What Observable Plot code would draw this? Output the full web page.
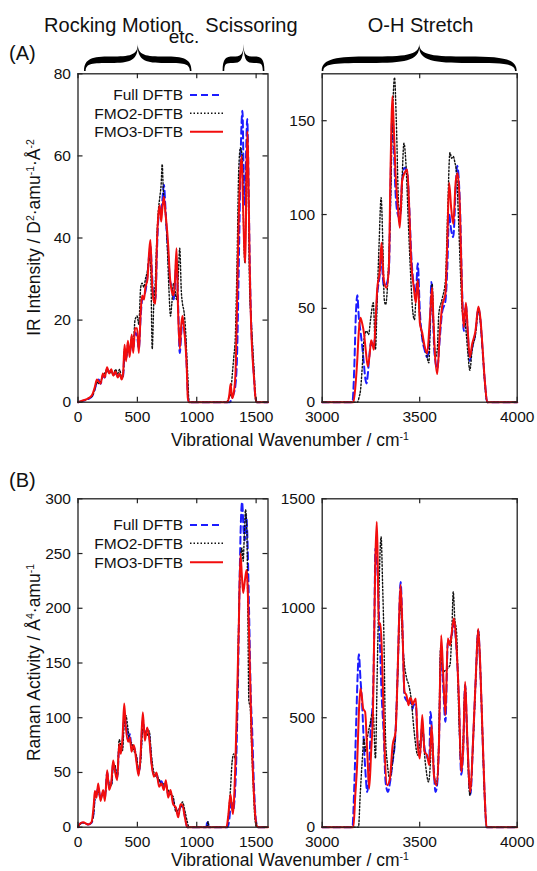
<!DOCTYPE html>
<html><head><meta charset="utf-8">
<script src="https://cdn.jsdelivr.net/npm/d3@7"></script>
<script src="https://cdn.jsdelivr.net/npm/@observablehq/plot@0.6"></script>
<style>
body{margin:0;background:#fff;}
#wrap{position:relative;width:537px;height:871px;overflow:hidden;background:#fff;}
</style></head><body><div id="wrap"></div>
<script>
// ---------- DATA (wavenumber cm^-1, value) ----------
const seriesNames = ["Full DFTB", "FMO2-DFTB", "FMO3-DFTB"];

// (A) IR intensity, low-frequency region
const irLowFull = [[0,0],[40,0.3],[90,0.8],[120,1.5],[140,3],[160,5],[175,5.5],[190,4.5],[210,6.5],[225,6],[245,8],[262,7.5],[280,7.5],[298,7],[315,7],[335,6.5],[350,6.5],[368,6],[380,6.5],[392,12],[405,10.5],[420,14],[435,12],[452,15],[465,13],[480,17],[498,16],[512,13],[528,21],[540,25],[555,26],[568,27],[585,31],[600,36],[610,38],[622,32],[635,26],[652,25],[664,36],[675,44],[689,47],[700,46],[710,49],[723,53],[737,47],[750,40],[760,36],[773,30],[790,28],[805,25],[815,28],[830,35],[843,24],[857,12],[870,17],[880,20],[893,18],[905,15],[915,9],[925,2],[935,0],[1280,0],[1295,1],[1310,2],[1325,4],[1340,12],[1352,30],[1365,52],[1375,66],[1385,71],[1395,55],[1405,48],[1415,60],[1425,69],[1435,56],[1445,36],[1460,18],[1472,11],[1482,6],[1495,1],[1505,0],[1600,0]];
const irLowFMO2 = [[0,0],[40,0.3],[90,1],[120,1.5],[140,3],[160,5],[175,4.5],[190,5],[210,6.5],[225,7],[245,8],[262,7],[280,7.5],[298,6.5],[315,8],[335,7],[350,8],[368,6],[380,6.5],[392,13],[405,11],[420,13.5],[435,12],[452,16],[465,14],[480,20],[498,21],[512,19],[528,28],[540,29],[555,28],[568,30],[585,32],[600,35],[612,33],[625,13],[638,24],[652,30],[664,40],[675,46],[689,50],[700,53],[709,58],[718,52],[730,48],[742,44],[752,38],[765,28],[779,21],[790,24],[805,29],[818,27],[830,25],[843,30],[857,37.5],[870,27],[880,24],[893,22],[905,18],[915,12],[925,6],[935,0],[1250,0],[1270,1],[1285,2],[1300,7],[1312,11],[1325,16],[1340,35],[1354,57],[1368,62],[1382,60],[1395,42],[1405,34],[1415,52],[1425,64],[1435,50],[1445,28],[1458,20],[1470,14],[1482,8],[1495,1],[1505,0],[1600,0]];
const irLowFMO3 = [[0,0],[40,0.4],[90,1],[120,1.8],[140,3.5],[160,5.5],[175,5],[190,4.5],[210,7],[225,6],[245,8.5],[262,7],[280,8],[298,6.5],[315,7.5],[335,6],[350,7],[368,5.5],[380,7],[392,14],[405,10],[420,15],[435,11],[452,16.5],[465,12],[480,18],[498,18],[512,12],[528,22],[540,26],[555,25],[568,28],[585,30],[600,37],[610,39.5],[622,30],[635,25],[652,24],[664,38],[675,45],[689,48],[700,44],[710,47],[723,50],[737,46],[750,42],[760,38],[773,31],[790,27],[805,26],[815,29],[830,37.5],[843,22],[857,13],[870,19],[880,21],[893,18],[905,14],[915,9],[925,1],[935,0],[1260,0],[1275,2],[1285,4.5],[1298,1],[1310,2],[1326,7],[1340,25],[1350,40],[1365,55],[1378,60],[1390,48],[1402,36],[1410,34],[1418,55],[1427,66],[1435,55],[1445,35],[1460,17],[1472,10],[1482,6],[1495,1],[1505,0],[1600,0]];

// (A) IR intensity, O-H stretch region
const irOHFull = [[3000,0],[3155,0],[3165,20],[3172,45],[3180,57],[3188,45],[3196,38],[3205,30],[3214,20],[3222,12],[3227,10],[3234,15],[3243,26],[3251,32],[3258,30],[3265,29],[3273,40],[3282,57],[3295,68],[3304,80],[3310,68],[3316,62],[3330,63],[3342,70],[3350,112],[3355,140],[3360,155],[3366,140],[3376,112],[3388,100],[3398,98],[3410,118],[3422,125],[3436,123],[3446,105],[3456,80],[3470,62],[3480,58],[3490,74],[3501,48],[3513,34],[3525,28],[3538,24],[3552,38],[3560,64],[3570,40],[3576,26],[3590,18],[3603,34],[3615,48],[3632,54],[3641,70],[3651,100],[3661,92],[3672,88],[3685,115],[3692,126],[3706,106],[3718,58],[3726,38],[3737,52],[3747,36],[3757,22],[3769,29],[3786,37],[3801,50],[3812,43],[3821,30],[3835,10],[3846,0],[4000,0]];
const irOHFMO2 = [[3000,0],[3180,0],[3190,3],[3196,6],[3205,18],[3214,33],[3227,38],[3238,36],[3248,44],[3262,53],[3273,28],[3282,55],[3292,85],[3302,109],[3312,80],[3318,55],[3325,52],[3338,68],[3350,104],[3360,150],[3371,173],[3380,150],[3393,104],[3405,102],[3412,125],[3419,138],[3432,122],[3442,95],[3453,69],[3463,50],[3473,44],[3482,58],[3490,65],[3500,45],[3510,37],[3520,31],[3530,28],[3547,21],[3555,45],[3564,63],[3572,40],[3580,24],[3590,28],[3598,47],[3615,55],[3632,65],[3643,100],[3655,133],[3664,130],[3672,131],[3680,128],[3689,122],[3700,95],[3709,69],[3720,47],[3730,45],[3740,35],[3748,25],[3757,17],[3769,28],[3786,36],[3801,49],[3812,42],[3821,30],[3835,9],[3846,0],[4000,0]];
const irOHFMO3 = [[3000,0],[3160,0],[3170,8],[3179,21],[3188,38],[3196,45],[3205,42],[3214,37],[3224,27],[3234,19],[3243,25],[3251,33],[3258,31],[3265,28],[3273,42],[3282,60],[3295,70],[3304,85],[3310,75],[3316,65],[3330,61],[3342,72],[3350,122],[3355,148],[3360,163],[3366,150],[3376,122],[3388,104],[3398,93],[3410,118],[3422,122],[3436,124],[3446,104],[3456,76],[3470,61],[3480,53],[3490,65],[3501,42],[3513,37],[3525,30],[3538,26],[3552,44],[3564,61],[3570,45],[3576,30],[3590,15],[3603,37],[3615,51],[3632,58],[3641,83],[3651,117],[3661,104],[3672,95],[3685,118],[3695,122],[3706,104],[3718,54],[3726,40],[3737,53],[3747,37],[3757,24],[3769,31],[3786,38],[3801,51],[3812,44],[3821,31],[3835,10],[3846,0],[4000,0]];

// (B) Raman activity, low-frequency region
const ramanLowFull = [[0,0],[15,3],[43,4],[86,2.5],[114,4],[133,15],[142,28],[156,30],[170,36],[190,26],[212,32],[226,27],[246,50],[262,37],[282,40],[296,58],[310,55],[330,45],[347,72],[361,70],[375,77],[389,100],[403,96],[423,80],[437,85],[451,72],[470,73],[493,62],[510,49],[526,62],[546,98],[563,84],[583,89],[599,85],[619,60],[639,48],[661,49],[683,40],[703,42],[723,36],[740,40],[759,30],[779,32],[801,24],[824,17],[844,12],[863,19],[880,19],[900,10],[920,0],[1080,0],[1090,6],[1100,0],[1260,0],[1275,8],[1290,25],[1305,15],[1326,40],[1345,120],[1360,220],[1372,280],[1382,297],[1395,270],[1405,262],[1415,285],[1425,270],[1440,200],[1455,120],[1466,91],[1481,40],[1500,5],[1515,0],[1600,0]];
const ramanLowFMO2 = [[0,0],[15,2.5],[43,4],[86,2.5],[114,4.5],[133,14],[142,26],[156,32],[170,33],[190,27],[212,30],[226,29],[246,45],[262,40],[282,38],[296,55],[310,57],[330,46],[347,80],[361,75],[375,70],[389,95],[403,102],[423,88],[437,78],[451,77],[470,70],[493,65],[510,52],[526,58],[546,90],[563,88],[583,84],[599,88],[619,65],[639,50],[661,46],[683,44],[703,38],[723,40],[740,38],[759,34],[779,30],[801,28],[824,14],[844,16],[863,18],[880,23],[900,15],[920,5],[935,0],[1085,0],[1095,5],[1105,0],[1255,0],[1270,15],[1284,35],[1298,60],[1312,67],[1325,62],[1340,110],[1354,190],[1368,240],[1380,255],[1391,243],[1400,265],[1411,290],[1422,270],[1430,200],[1439,115],[1450,110],[1460,80],[1475,40],[1490,8],[1505,0],[1600,0]];
const ramanLowFMO3 = [[0,0],[15,3],[43,4.6],[86,2.5],[114,4.6],[133,21],[142,33],[156,27],[170,40],[190,24],[212,34],[226,24],[246,52],[262,34],[282,43],[296,61],[310,52],[330,43],[347,76],[361,67],[375,82],[389,113],[403,91],[423,78],[437,82],[451,69],[470,75],[493,59],[510,47],[526,64],[546,105],[563,79],[583,91],[599,82],[619,58],[639,46],[661,50],[683,37],[703,40],[723,34],[740,43],[759,27],[779,34],[801,21],[824,18],[844,9],[863,21],[880,20],[900,9],[920,0],[1250,0],[1265,10],[1284,30],[1304,12],[1326,61],[1340,120],[1354,183],[1368,250],[1380,230],[1391,214],[1405,225],[1419,235],[1439,183],[1458,98],[1481,31],[1503,2],[1515,0],[1600,0]];

// (B) Raman activity, O-H stretch region
const ramanOHFull = [[3000,0],[3155,0],[3165,200],[3175,500],[3182,700],[3188,790],[3196,680],[3205,557],[3214,374],[3222,250],[3231,161],[3240,250],[3248,435],[3261,618],[3267,900],[3273,1273],[3282,1197],[3290,1000],[3296,846],[3305,600],[3315,435],[3325,207],[3337,161],[3347,200],[3359,284],[3376,435],[3388,740],[3396,1000],[3402,1120],[3412,900],[3422,600],[3432,580],[3443,570],[3450,560],[3456,580],[3463,540],[3470,560],[3480,560],[3490,380],[3501,330],[3513,470],[3525,360],[3538,320],[3549,300],[3555,527],[3565,400],[3573,250],[3581,161],[3590,200],[3598,350],[3610,820],[3620,650],[3632,482],[3644,840],[3655,860],[3665,880],[3675,930],[3689,810],[3701,580],[3713,240],[3723,350],[3733,650],[3743,430],[3754,200],[3760,150],[3774,400],[3788,690],[3800,900],[3810,740],[3821,450],[3833,150],[3843,0],[4000,0]];
const ramanOHFMO2 = [[3000,0],[3186,0],[3195,150],[3205,300],[3214,405],[3222,344],[3230,400],[3244,466],[3261,527],[3273,314],[3282,700],[3290,1045],[3302,1326],[3310,1100],[3316,892],[3325,400],[3333,300],[3347,222],[3361,300],[3376,435],[3388,720],[3396,950],[3402,1030],[3412,850],[3422,740],[3433,680],[3444,649],[3456,588],[3470,451],[3490,329],[3500,380],[3513,435],[3530,284],[3545,207],[3555,300],[3561,435],[3573,250],[3586,192],[3598,400],[3607,816],[3620,710],[3636,720],[3655,740],[3665,900],[3672,1075],[3680,950],[3689,892],[3701,500],[3713,284],[3723,400],[3733,649],[3743,420],[3757,146],[3774,390],[3788,680],[3800,900],[3810,740],[3821,450],[3833,140],[3843,0],[4000,0]];
const ramanOHFMO3 = [[3000,0],[3160,0],[3170,150],[3179,284],[3188,520],[3196,633],[3203,600],[3210,542],[3220,527],[3231,344],[3241,176],[3251,344],[3261,557],[3267,900],[3272,1197],[3280,1395],[3285,1200],[3290,923],[3299,930],[3308,740],[3320,359],[3333,192],[3347,222],[3361,374],[3376,435],[3388,740],[3396,1000],[3402,1106],[3412,892],[3422,618],[3432,603],[3443,557],[3450,590],[3456,588],[3463,560],[3470,572],[3480,588],[3490,374],[3501,314],[3513,512],[3525,344],[3538,329],[3549,284],[3561,466],[3573,238],[3586,192],[3598,359],[3610,877],[3620,710],[3632,512],[3644,862],[3655,831],[3665,892],[3675,953],[3689,816],[3701,588],[3713,253],[3723,359],[3733,664],[3743,435],[3754,207],[3760,161],[3774,405],[3788,694],[3800,907],[3810,750],[3821,457],[3833,150],[3843,0],[4000,0]];

// Axis ticks
const lowXTicks = [0, 500, 1000, 1500];
const ohXTicks = [3000, 3500, 4000];
const irLowYTicks = [0, 20, 40, 60, 80];
const irOHYTicks = [0, 50, 100, 150];
const ramanLowYTicks = [0, 50, 100, 150, 200, 250, 300];
const ramanOHYTicks = [0, 500, 1000, 1500];

// Annotation ranges (cm^-1)
const rockingRange = [55, 960];
const scissorRange = [1222, 1574];
const ohRange = [3000, 4000];

// ---------- DRAWING ----------
const FONT = '"Liberation Sans", Arial, Helvetica, sans-serif';
const BLUE = "#1c1cff", RED = "#f20d0d", BLACK = "#111";
const wrap = document.getElementById("wrap");

function lines(full, fmo2, fmo3) {
  const xy = {x: d => d[0], y: d => d[1], curve: "monotone-x"};
  return [
    Plot.line(full, {...xy, stroke: BLUE, strokeWidth: 2, strokeDasharray: "7,4"}),
    Plot.line(fmo2, {...xy, stroke: BLACK, strokeWidth: 1.4, strokeDasharray: "1.5,2"}),
    Plot.line(fmo3, {...xy, stroke: RED, strokeWidth: 2})
  ];
}

function panel(c) {
  const fw = c.width - c.mL - c.mR, fh = c.height - c.mT - c.mB, tk = 5;
  const tickStyle = {stroke: "#222", strokeWidth: 1.2};
  const p = Plot.plot({
    width: c.width, height: c.height,
    marginLeft: c.mL, marginRight: c.mR, marginTop: c.mT, marginBottom: c.mB,
    x: {domain: c.xDomain}, y: {domain: c.yDomain},
    style: {fontFamily: FONT, fontSize: "15.5px", color: "#111", background: "transparent", overflow: "visible"},
    marks: [
      ...lines(...c.data),
      Plot.ruleX(c.xTicks, {x: d => d, insetTop: fh - tk, ...tickStyle}),
      Plot.ruleX(c.xTicks, {x: d => d, insetBottom: fh - tk, ...tickStyle}),
      Plot.ruleY(c.yTicks, {y: d => d, insetRight: fw - tk, ...tickStyle}),
      Plot.ruleY(c.yTicks, {y: d => d, insetLeft: fw - tk, ...tickStyle}),
      Plot.axisX(c.xTicks, {tickSize: 0, tickPadding: 9, tickFormat: d3.format("d"), label: null}),
      Plot.axisY(c.yTicks, {tickSize: 0, tickPadding: 7, tickFormat: d3.format("d"), label: null}),
      Plot.frame({stroke: "#222", strokeWidth: 1.3})
    ]
  });
  p.style.position = "absolute";
  p.style.left = c.left + "px";
  p.style.top = c.top + "px";
  wrap.appendChild(p);
  return p;
}

const tl = panel({left: 0, top: 0, width: 280, height: 440, mL: 77.5, mR: 12.5, mT: 73.3, mB: 38.3,
  xDomain: [0, 1600], yDomain: [0, 80], xTicks: lowXTicks, yTicks: irLowYTicks, data: [irLowFull, irLowFMO2, irLowFMO3]});
const tr = panel({left: 280, top: 0, width: 257, height: 440, mL: 41.7, mR: 20.3, mT: 73.3, mB: 38.3,
  xDomain: [3000, 4000], yDomain: [0, 175], xTicks: ohXTicks, yTicks: irOHYTicks, data: [irOHFull, irOHFMO2, irOHFMO3]});
const bl = panel({left: 0, top: 440, width: 280, height: 431, mL: 77.5, mR: 12.5, mT: 58.3, mB: 44.3,
  xDomain: [0, 1600], yDomain: [0, 300], xTicks: lowXTicks, yTicks: ramanLowYTicks, data: [ramanLowFull, ramanLowFMO2, ramanLowFMO3]});
const br = panel({left: 280, top: 440, width: 257, height: 431, mL: 41.7, mR: 20.3, mT: 58.3, mB: 44.3,
  xDomain: [3000, 4000], yDomain: [0, 1500], xTicks: ohXTicks, yTicks: ramanOHYTicks, data: [ramanOHFull, ramanOHFMO2, ramanOHFMO3]});

// ---------- Overlay: annotations, legends, titles ----------
const ov = d3.select(wrap).append("svg")
  .attr("width", 537).attr("height", 871)
  .style("position", "absolute").style("left", "0px").style("top", "0px")
  .style("pointer-events", "none")
  .attr("font-family", FONT).attr("fill", "#111");

function bracePath(x1, x2, yT, yE, yB, t) {
  const xm = (x1 + x2) / 2, W = xm - x1;
  return [
    `M${x1},${yE}`,
    `C${x1},${yB + 2} ${x1 + 0.15 * W},${yB} ${x1 + 0.5 * W},${yB}`,
    `C${x1 + 0.85 * W},${yB} ${xm},${yB - 1} ${xm},${yT}`,
    `C${xm},${yB - 1} ${x2 - 0.85 * W},${yB} ${x2 - 0.5 * W},${yB}`,
    `C${x2 - 0.15 * W},${yB} ${x2},${yB + 2} ${x2},${yE}`,
    `L${x2 - 1.6},${yE}`,
    `C${x2 - 2},${yB + t} ${x2 - 0.15 * W},${yB + t} ${x2 - 0.5 * W},${yB + t}`,
    `C${x2 - 0.85 * W},${yB + t} ${xm + 1},${yB + t * 0.6} ${xm},${yT + 4}`,
    `C${xm - 1},${yB + t * 0.6} ${x1 + 0.85 * W},${yB + t} ${x1 + 0.5 * W},${yB + t}`,
    `C${x1 + 0.15 * W},${yB + t} ${x1 + 2},${yB + t} ${x1 + 1.6},${yE}`,
    "Z"
  ].join(" ");
}
const sxTL = v => tl.scale("x").apply(v);
const sxTR = v => tr.scale("x").apply(v) + 280;
[[sxTL, rockingRange], [sxTL, scissorRange], [sxTR, ohRange]].forEach(([sx, r]) => {
  ov.append("path").attr("d", bracePath(sx(r[0]), sx(r[1]), 44, 71, 56.5, 6.5)).attr("fill", "#000");
});

function txt(x, y, s, size, anchor = "start") {
  return ov.append("text").attr("x", x).attr("y", y).attr("font-size", size).attr("text-anchor", anchor).text(s);
}
txt(113, 32, "Rocking Motion", 20, "middle");
txt(251.5, 32, "Scissoring", 20, "middle");
txt(420.5, 32, "O-H Stretch", 20, "middle");
txt(184, 43, "etc.", 19, "middle");
txt(9, 60, "(A)", 20);
txt(9, 487, "(B)", 20);

function xLabel(y) {
  const t = ov.append("text").attr("x", 290).attr("y", y).attr("font-size", 17.5).attr("text-anchor", "middle");
  t.append("tspan").text("Vibrational Wavenumber / cm");
  t.append("tspan").attr("baseline-shift", "super").attr("font-size", 10.5).text("-1");
}
xLabel(446);
xLabel(866);

function yLabel(cx, cy, parts) {
  const t = ov.append("text").attr("transform", `translate(${cx},${cy}) rotate(-90)`)
    .attr("font-size", 17.5).attr("text-anchor", "middle");
  parts.forEach(([s, sup]) => {
    const ts = t.append("tspan").text(s);
    if (sup) ts.attr("baseline-shift", "super").attr("font-size", 10.5);
  });
}
yLabel(40, 237.5, [["IR Intensity / D"], ["2", true], ["·amu"], ["-1", true], ["·Å"], ["-2", true]]);
yLabel(40, 662.5, [["Raman Activity / Å"], ["4", true], ["·amu"], ["-1", true]]);

const legendStyles = [
  {stroke: BLUE, width: 2, dash: "7,4"},
  {stroke: BLACK, width: 1.4, dash: "1.5,2"},
  {stroke: RED, width: 2, dash: null}
];
function legend(rowsY) {
  seriesNames.forEach((name, i) => {
    const y = rowsY[i], s = legendStyles[i];
    txt(183, y + 5.4, name, 15.5, "end");
    const l = ov.append("line").attr("x1", 190).attr("x2", 223).attr("y1", y).attr("y2", y)
      .attr("stroke", s.stroke).attr("stroke-width", s.width);
    if (s.dash) l.attr("stroke-dasharray", s.dash);
  });
}
legend([95, 113.3, 131.7]);
legend([525, 543.3, 562.3]);
</script></body></html>
